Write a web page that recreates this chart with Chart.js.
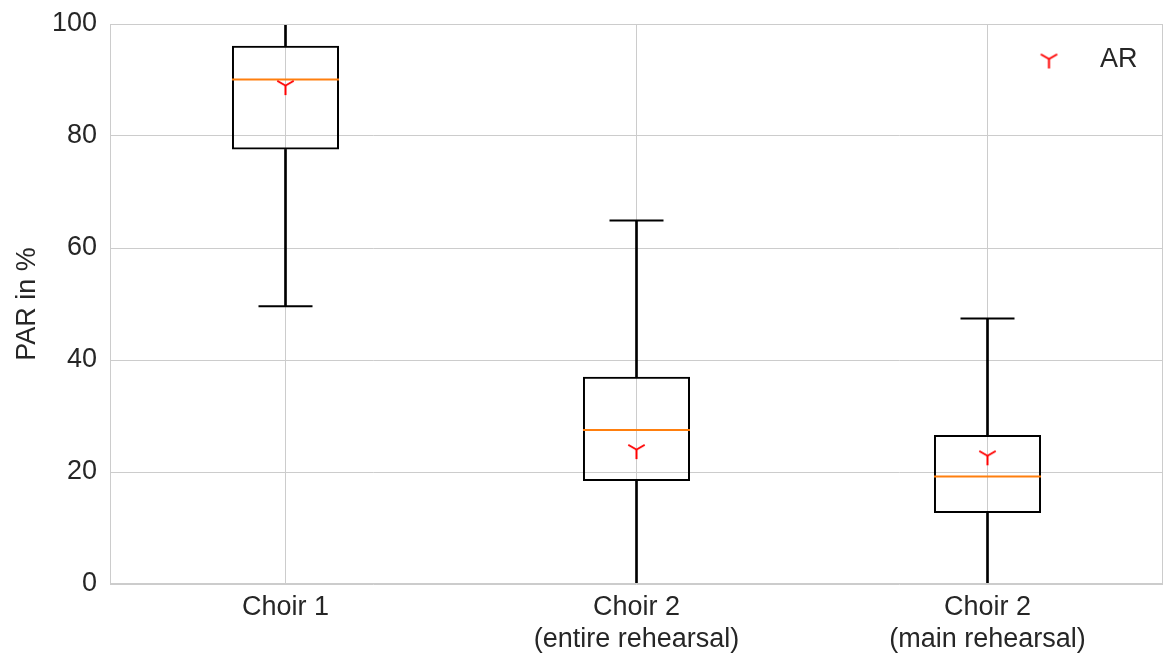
<!DOCTYPE html>
<html>
<head>
<meta charset="utf-8">
<title>PAR in %</title>
<script src="https://cdn.jsdelivr.net/npm/chart.js@4.4.1/dist/chart.umd.min.js"></script>
<style>
  html, body { margin: 0; padding: 0; background: #ffffff; }
  #wrap { width: 1168px; height: 654px; }
</style>
</head>
<body>
<div id="wrap"><canvas id="chart" width="1168" height="654"></canvas></div>
<script>
// Box-plot statistics per group (values in %)
const categories = ["Choir 1", ["Choir 2", "(entire rehearsal)"], ["Choir 2", "(main rehearsal)"]];
const whiskerLow  = [49.6, 0, 0];
const quartile1   = [77.6, 18.4, 12.7];
const medians     = [90.1, 27.5, 19.2];
const quartile3   = [96.1, 37.0, 26.6];
const whiskerHigh = [100, 64.9, 47.4];
const arMeans     = [89.0, 24.0, 22.9];
const legendLabel = "AR";
const yAxisTitle  = "PAR in %";

const FONT = "'Liberation Sans', Arial, Helvetica, sans-serif";
const TEXT = "#262626";
const GRID = "#cccccc";

// Red "tri-down" (Y-shaped) marker for the AR values
function makeTriDown(r, color, lw) {
  const size = Math.ceil(2 * r + 4);
  const c = document.createElement("canvas");
  c.width = size; c.height = size;
  const g = c.getContext("2d");
  const cx = size / 2, cy = size / 2;
  g.strokeStyle = color;
  g.lineWidth = lw;
  g.beginPath();
  g.moveTo(cx, cy); g.lineTo(cx, cy + r);
  g.moveTo(cx, cy); g.lineTo(cx - r * 0.866, cy - r * 0.5);
  g.moveTo(cx, cy); g.lineTo(cx + r * 0.866, cy - r * 0.5);
  g.stroke();
  return c;
}
const triDown = makeTriDown(9.5, "#ff0000", 2);

// Frame around the plot area, drawn above the data like axis spines
const framePlugin = {
  id: "frame",
  afterDatasetsDraw(chart) {
    const { ctx, chartArea: a } = chart;
    ctx.save();
    ctx.strokeStyle = GRID;
    ctx.lineWidth = 1;
    ctx.strokeRect(a.left + 0.5, a.top + 0.5, a.right - a.left - 1, a.bottom - a.top - 1);
    ctx.restore();
  }
};

// Legend inside the upper-right corner of the plot area
const legendPlugin = {
  id: "insideLegend",
  afterDraw(chart) {
    const { ctx, chartArea: a } = chart;
    const mx = a.right - 114, my = a.top + 35;
    ctx.save();
    ctx.drawImage(triDown, mx - triDown.width / 2, my - triDown.height / 2);
    ctx.fillStyle = TEXT;
    ctx.font = "27px " + FONT;
    ctx.textAlign = "left";
    ctx.textBaseline = "middle";
    ctx.fillText(legendLabel, a.right - 63, my + 1);
    ctx.restore();
  }
};

const boxData = categories.map((c, i) => [quartile1[i], quartile3[i]]);
const lowerWhisker = categories.map((c, i) => [whiskerLow[i], quartile1[i]]);
const upperWhisker = categories.map((c, i) => [quartile3[i], whiskerHigh[i]]);

new Chart(document.getElementById("chart"), {
  data: {
    labels: categories,
    datasets: [
      {
        type: "line", label: legendLabel, data: arMeans,
        showLine: false, pointStyle: triDown, pointRadius: 10,
        borderColor: "#ff0000", backgroundColor: "#ff0000", order: 0
      },
      {
        type: "line", label: "median", data: medians,
        showLine: false, pointStyle: "line", pointRadius: 53.5,
        borderColor: "#ff7f0e", borderWidth: 2, order: 1
      },
      {
        type: "bar", label: "box", data: boxData, grouped: false,
        barPercentage: 0.305, categoryPercentage: 1,
        backgroundColor: "rgba(0,0,0,0)", borderColor: "#000000",
        borderWidth: 2, borderSkipped: false, order: 2
      },
      {
        type: "bar", label: "lower whisker", data: lowerWhisker, grouped: false,
        barThickness: 2, backgroundColor: "#000000", borderWidth: 0, order: 3
      },
      {
        type: "bar", label: "upper whisker", data: upperWhisker, grouped: false,
        barThickness: 2, backgroundColor: "#000000", borderWidth: 0, order: 3
      },
      {
        type: "line", label: "lower cap", data: whiskerLow, clip: 0,
        showLine: false, pointStyle: "line", pointRadius: 27,
        borderColor: "#000000", borderWidth: 2, order: 4
      },
      {
        type: "line", label: "upper cap", data: whiskerHigh, clip: 0,
        showLine: false, pointStyle: "line", pointRadius: 27,
        borderColor: "#000000", borderWidth: 2, order: 4
      }
    ]
  },
  options: {
    responsive: false,
    animation: false,
    devicePixelRatio: 1,
    layout: { autoPadding: false, padding: { top: 24, right: 5, left: 0, bottom: 0 } },
    plugins: {
      legend: { display: false },
      tooltip: { enabled: false }
    },
    scales: {
      x: {
        type: "category",
        offset: true,
        grid: { offset: false, color: GRID, lineWidth: 1, drawTicks: false },
        border: { display: false },
        ticks: { color: TEXT, padding: 7, font: { family: FONT, size: 27, lineHeight: 1.2 } },
        afterFit(scale) {
          scale.height = 70;
          scale.paddingLeft = 0; scale.paddingRight = 0;
        }
      },
      y: {
        min: 0, max: 100,
        grid: { color: GRID, lineWidth: 1, drawTicks: false },
        border: { display: false },
        ticks: { stepSize: 20, color: TEXT, padding: 13, font: { family: FONT, size: 27 } },
        title: {
          display: true, text: yAxisTitle, color: TEXT,
          font: { family: FONT, size: 27, lineHeight: 1.2 },
          padding: { top: 11, bottom: 0 }
        },
        afterFit(scale) {
          scale.width = 110;
          scale.paddingTop = 0; scale.paddingBottom = 0;
        }
      }
    }
  },
  plugins: [framePlugin, legendPlugin]
});
</script>
</body>
</html>
